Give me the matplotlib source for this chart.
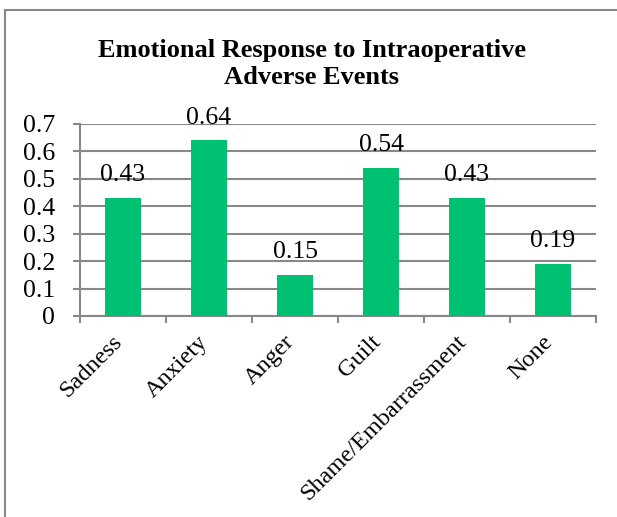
import matplotlib
matplotlib.use('Agg')
import matplotlib.pyplot as plt
from matplotlib.lines import Line2D

emotions = ['Sadness', 'Anxiety', 'Anger', 'Guilt', 'Shame/Embarrassment', 'None']
values = [0.43, 0.64, 0.15, 0.54, 0.43, 0.19]

W, H = 617, 517
plt.rcParams['font.family'] = ['Liberation Serif', 'DejaVu Serif']

fig = plt.figure(figsize=(W / 100, H / 100), dpi=100)
ax = fig.add_axes([80 / W, (H - 316) / H, (596 - 80) / W, (316 - 124) / H])

xs = list(range(len(emotions)))
bars = ax.bar(xs, values, width=0.41, color='#00C072', zorder=3)
for b, v in zip(bars, values):
    ax.annotate(f'{v:.2f}', (b.get_x() + b.get_width() / 2, v), xytext=(0, 8.5),
                textcoords='offset points', ha='center', va='bottom', fontsize=18.5)

ax.set_xlim(-0.5, len(emotions) - 0.5)
ax.set_ylim(0, 0.7)
ax.set_yticks([i / 10 for i in range(8)])
ax.set_yticklabels(['0'] + [f'{i / 10:.1f}' for i in range(1, 8)])
ax.yaxis.grid(True, color='#888888', lw=1.5)
ax.set_axisbelow(True)

# labels sit a bit left of the bar centre, like Excel's rotated labels
ax.set_xticks([x - 0.13 for x in xs])
ax.set_xticklabels(emotions, rotation=45, ha='right', rotation_mode='anchor')
ax.set_xticks([i - 0.5 for i in range(len(emotions) + 1)], minor=True)
ax.tick_params(axis='x', which='major', length=0, pad=11, labelsize=17.5)
ax.tick_params(axis='x', which='minor', length=5, width=1.5, color='#888888')
ax.tick_params(axis='y', length=5, width=1.5, color='#888888', labelsize=18.5, pad=13)

for s in ['top', 'right']:
    ax.spines[s].set_visible(False)
for s in ['left', 'bottom']:
    ax.spines[s].set_color('#888888')
    ax.spines[s].set_linewidth(1.5)

fig.text(312 / W, 1 - 64 / H, 'Emotional Response to Intraoperative\nAdverse Events',
         ha='center', va='center', fontsize=19, fontweight='bold', linespacing=1.25)

fig.add_artist(Line2D([5 / W, 616 / W], [1 - 10 / H, 1 - 10 / H], color='#888888', lw=1.5))
fig.add_artist(Line2D([5 / W, 5 / W], [1 - 10 / H, 0], color='#888888', lw=1.5))

fig.savefig('out.png', dpi=100)
